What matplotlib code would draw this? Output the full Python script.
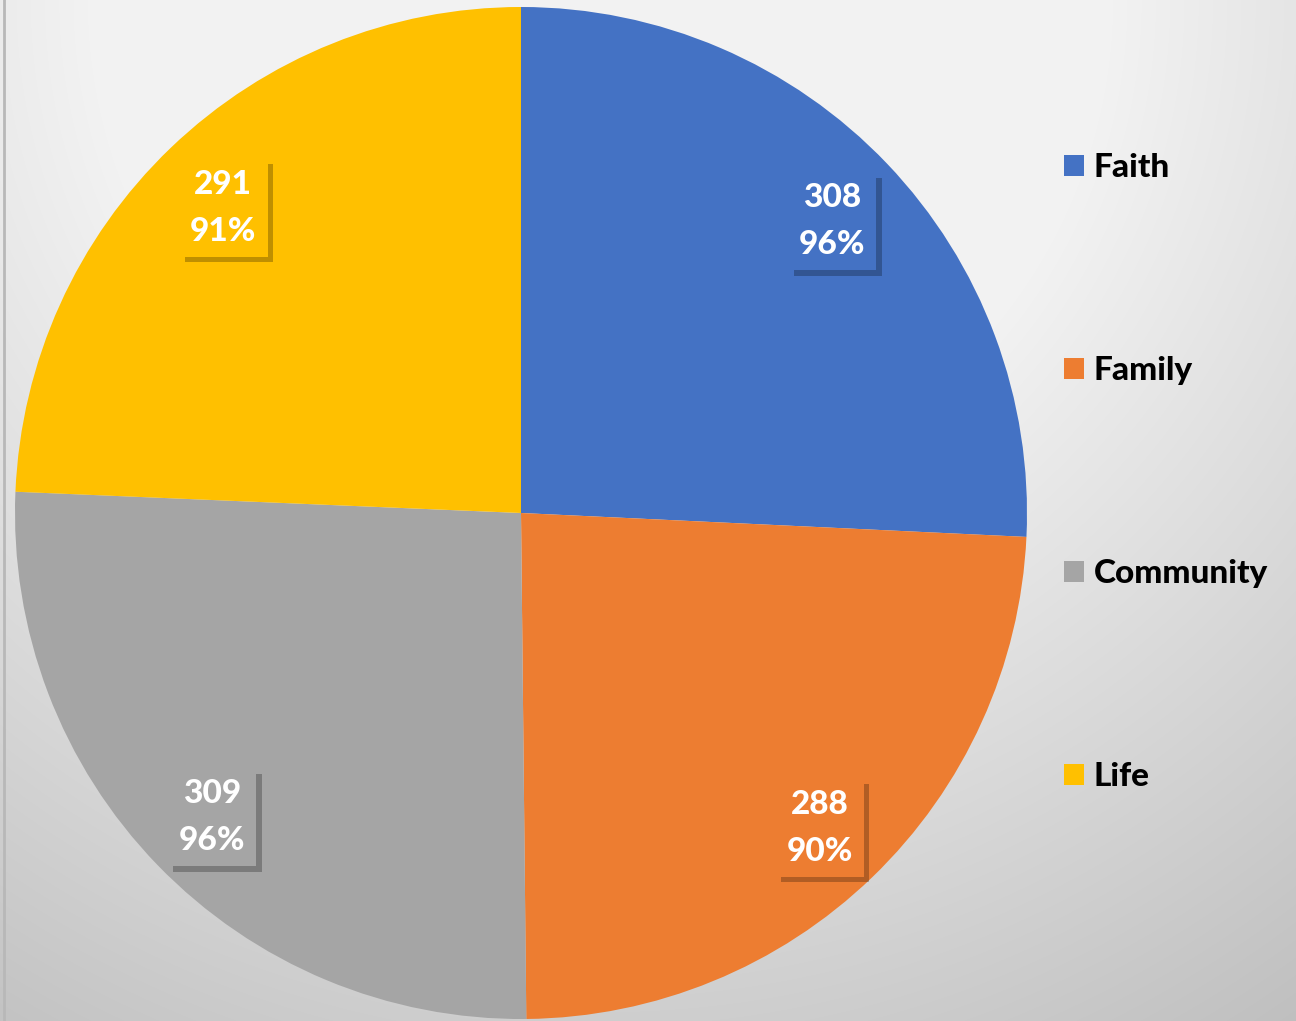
import numpy as np
import matplotlib
matplotlib.use("Agg")
import matplotlib.pyplot as plt
import matplotlib.patheffects as pe
from matplotlib.patches import Patch

# ------------------ data ------------------
categories = ["Faith", "Family", "Community", "Life"]
counts = [308, 288, 309, 291]
percents = [96, 90, 96, 91]
colors = ["#4472C4", "#ED7D31", "#A5A5A5", "#FFC000"]

plt.rcParams["font.family"] = ["Lato", "DejaVu Sans"]

W, H = 1296, 1021
fig = plt.figure(figsize=(W / 100, H / 100), dpi=100)

# ------------------ background gradient ------------------
bg = fig.add_axes([0, 0, 1, 1], zorder=-10)
yy, xx = np.mgrid[0:H, 0:W]
d = np.hypot(xx - 600, yy - 0)
v = np.clip(1.09 - 0.000275 * d, 0.0, 0.95)
bg.imshow(np.dstack([v, v, v]), extent=[0, W, H, 0], aspect="auto")
bg.axvline(3.5, color="#b8b8b8", lw=2)
bg.set_xlim(0, W)
bg.set_ylim(H, 0)
bg.axis("off")

# ------------------ pie ------------------
cx, cy, R = 521, 513, 506
ax = fig.add_axes([(cx - R) / W, (H - cy - R) / H, 2 * R / W, 2 * R / H])
wedges, _ = ax.pie(counts, colors=colors, startangle=90, counterclock=False,
                   radius=1.0)
ax.set_xlim(-1, 1)
ax.set_ylim(-1, 1)
ax.set_aspect("equal")
ax.axis("off")

# data labels: count + percent in a box of the slice colour
for w, n, p, c in zip(wedges, counts, percents, colors):
    mid = np.deg2rad((w.theta1 + w.theta2) / 2)
    x, y = 0.85 * np.cos(mid), 0.85 * np.sin(mid)
    t = ax.text(x, y - 0.01, f"{n}\n{p}%", ha="center", va="center", color="white",
                fontsize=24, fontweight=900, linespacing=1.75,
                bbox=dict(boxstyle="square,pad=0.33", fc=c, ec="none"))
    t.get_bbox_patch().set_path_effects(
        [pe.SimplePatchShadow(offset=(4, -4), shadow_rgbFace="black", alpha=0.25),
         pe.Normal()])

# ------------------ legend ------------------
handles = [Patch(facecolor=c, edgecolor="none") for c in colors]
leg = fig.legend(handles, categories, loc="upper left",
                 bbox_to_anchor=(1064 / W, 1 - 153 / H), frameon=False,
                 prop=dict(size=24, weight=900), handlelength=0.6,
                 handleheight=0.6, handletextpad=0.3, labelspacing=5.22,
                 borderpad=0, borderaxespad=0)

fig.savefig("out.png", dpi=100)
